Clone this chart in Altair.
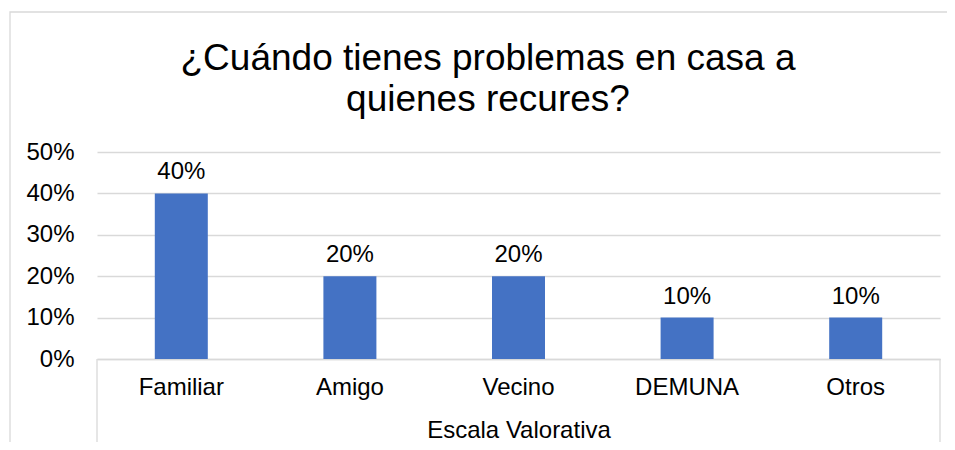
import altair as alt
import pandas as pd

categories = ["Familiar", "Amigo", "Vecino", "DEMUNA", "Otros"]
values = [0.40, 0.20, 0.20, 0.10, 0.10]
title_lines = ["¿Cuándo tienes problemas en casa a", "quienes recures?"]
x_title = "Escala Valorativa"

df = pd.DataFrame({"cat": categories, "val": values})

FONT = "Liberation Sans"
W, H = 843, 207

x_enc = alt.X("cat:N", sort=categories, title=x_title,
              axis=alt.Axis(labelAngle=0, labelFontSize=24, labelFont=FONT, labelColor="#000000",
                            labelPadding=16, ticks=False, domainColor="#D9D9D9", domainWidth=1.3,
                            titleFontSize=24, titleFont=FONT, titleColor="#000000",
                            titleFontWeight="normal", titlePadding=19))
y_enc = alt.Y("val:Q", scale=alt.Scale(domain=[0, 0.5]), title=None,
              axis=alt.Axis(values=[0, 0.1, 0.2, 0.3, 0.4, 0.5], format=".0%", labelFontSize=24,
                            labelFont=FONT, labelColor="#000000", labelPadding=23, ticks=False,
                            domain=False, gridColor="#D9D9D9", gridWidth=1.3))

bars = alt.Chart(df).mark_bar(color="#4472C4", size=53).encode(x=x_enc, y=y_enc)
labels = alt.Chart(df).mark_text(fontSize=24, font=FONT, color="#000000", baseline="alphabetic", dy=-14).encode(
    x=alt.X("cat:N", sort=categories), y="val:Q", text=alt.Text("val:Q", format=".0%"))

deco = pd.DataFrame({"k": [0]})
border = alt.Chart(deco).mark_rect(fillOpacity=0, stroke="#D9D9D9", strokeWidth=1.3).encode(
    x=alt.value(-87), x2=alt.value(W + 60), y=alt.value(-140), y2=alt.value(H + 120))
vl = alt.Chart(deco).mark_rule(color="#D9D9D9", strokeWidth=1.3).encode(
    x=alt.value(0), y=alt.value(H), y2=alt.value(H + 90))
vr = alt.Chart(deco).mark_rule(color="#D9D9D9", strokeWidth=1.3).encode(
    x=alt.value(W), y=alt.value(H), y2=alt.value(H + 90))
title = alt.Chart(deco).mark_text(fontSize=37, font=FONT, color="#000000", align="center",
                                  baseline="alphabetic", lineHeight=41).encode(
    x=alt.value(391), y=alt.value(-82), text=alt.value(title_lines))

chart = alt.layer(border, bars, labels, vl, vr, title).properties(
    width=W, height=H,
    autosize=alt.AutoSizeParams(type="none"),
    padding={"left": 89, "top": 144, "right": 7, "bottom": 83},
).configure_view(stroke=None)

chart.save("out.html", embed_options={"renderer": "svg", "actions": False})
